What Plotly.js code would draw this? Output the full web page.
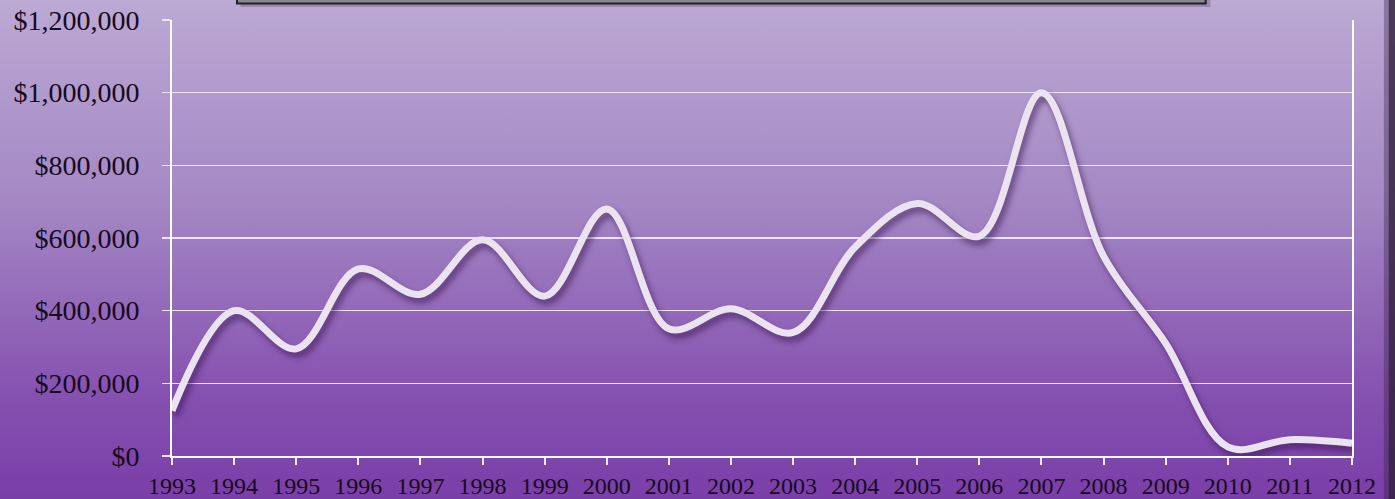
<!DOCTYPE html>
<html>
<head>
<meta charset="utf-8">
<script src="https://cdn.plot.ly/plotly-3.0.1.min.js"></script>
<style>
  html, body { margin: 0; padding: 0; }
  body {
    width: 1395px; height: 499px; overflow: hidden;
    background: linear-gradient(to bottom, #bca9d4 0%, #a488c4 40%, #8550b0 80%, #7a3ea8 100%);
  }
  #chart { width: 1395px; height: 499px; }
  .scatterlayer .trace path.js-line {
    filter: drop-shadow(3px 5px 3px rgba(45, 10, 70, 0.55));
  }
</style>
</head>
<body>
<div id="chart"></div>
<script>
const years = [1993, 1994, 1995, 1996, 1997, 1998, 1999, 2000, 2001, 2002,
               2003, 2004, 2005, 2006, 2007, 2008, 2009, 2010, 2011, 2012];
const values = [125000, 400000, 295000, 515000, 445000, 595000, 440000, 680000, 350000, 405000,
                340000, 575000, 695000, 605000, 1000000, 550000, 310000, 25000, 45000, 35000];
const yTicks = [0, 200000, 400000, 600000, 800000, 1000000, 1200000];
const yTickLabels = ["$0", "$200,000", "$400,000", "$600,000", "$800,000", "$1,000,000", "$1,200,000"];

const trace = {
  x: years, y: values, type: 'scatter', mode: 'lines',
  line: { color: '#ebe4f0', width: 7, shape: 'spline', smoothing: 1 },
  hoverinfo: 'skip'
};

const textColor = '#170a1c';
const layout = {
  width: 1395, height: 499,
  margin: { l: 172, r: 43, t: 20, b: 43, pad: 0 },
  paper_bgcolor: 'rgba(0,0,0,0)',
  plot_bgcolor: 'rgba(0,0,0,0)',
  showlegend: false,
  xaxis: {
    range: [1993, 2012], tickmode: 'array', tickvals: years, ticktext: years.map(String),
    showgrid: false, zeroline: false,
    showline: true, linecolor: '#ffffff', linewidth: 2, mirror: false,
    ticks: 'outside', ticklen: 7, tickwidth: 2, tickcolor: '#f3e8f8',
    tickfont: { family: 'Liberation Serif, Times New Roman, serif', size: 24, color: textColor },
    ticklabelstandoff: 0
  },
  yaxis: {
    range: [0, 1200000], tickmode: 'array', tickvals: yTicks, ticktext: yTickLabels,
    showgrid: true, gridcolor: '#efe3f6', gridwidth: 1.5, zeroline: false,
    showline: true, linecolor: '#ffffff', linewidth: 2, mirror: true,
    ticks: 'outside', ticklen: 8, tickwidth: 1.5, tickcolor: '#efe3f6',
    tickfont: { family: 'Liberation Serif, Times New Roman, serif', size: 28, color: textColor },
    ticklabelstandoff: 17
  },
  shapes: [
    { type: 'rect', xref: 'paper', yref: 'paper', x0: 0.058, x1: 0.880, y0: 1.030, y1: 1.08,
      fillcolor: 'rgba(60,30,80,0.25)', line: { width: 0 }, layer: 'below' },
    { type: 'rect', xref: 'paper', yref: 'paper', x0: 0.0551, x1: 0.876, y0: 1.038, y1: 1.08,
      fillcolor: '#8a8790', line: { color: '#222026', width: 2 }, layer: 'above' },
    { type: 'rect', xref: 'paper', yref: 'paper', x0: 1.027, x1: 1.031, y0: -0.11, y1: 1.06,
      fillcolor: 'rgba(50,30,60,0.35)', line: { width: 0 }, layer: 'below' },
    { type: 'rect', xref: 'paper', yref: 'paper', x0: 1.031, x1: 1.04, y0: -0.11, y1: 1.06,
      fillcolor: 'rgba(45,30,55,0.8)', line: { width: 0 }, layer: 'below' }
  ]
};

Plotly.newPlot('chart', [trace], layout, { displayModeBar: false, staticPlot: true });
</script>
</body>
</html>
